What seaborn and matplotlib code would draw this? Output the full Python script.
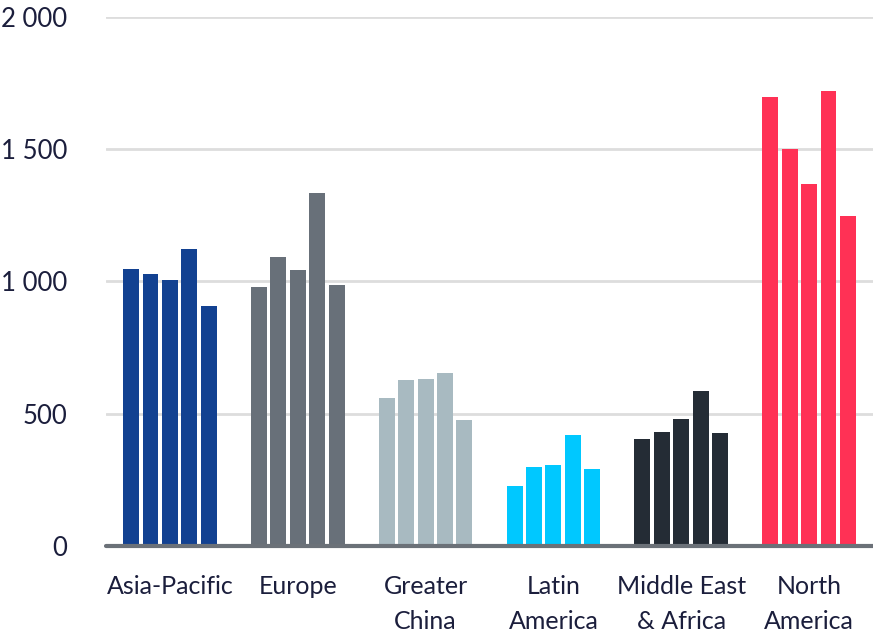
import matplotlib
matplotlib.use("Agg")
import matplotlib.pyplot as plt
import seaborn as sns
import pandas as pd
import numpy as np
from matplotlib.ticker import FuncFormatter

regions = ["Asia-Pacific", "Europe", "Greater\nChina", "Latin\nAmerica",
           "Middle East\n& Africa", "North\nAmerica"]
series = ["P1", "P2", "P3", "P4", "P5"]
asia_pacific = [1048, 1029, 1006, 1124, 908]
europe = [980, 1094, 1044, 1336, 988]
greater_china = [559, 628, 631, 654, 476]
latin_america = [226, 298, 305, 419, 291]
middle_east_africa = [404, 430, 480, 586, 427]
north_america = [1696, 1499, 1370, 1719, 1249]
region_colors = ["#124191", "#687079", "#A8BAC1", "#00C8FF", "#242C35", "#FF3155"]
y_ticks = [0, 500, 1000, 1500, 2000]

values = [asia_pacific, europe, greater_china, latin_america, middle_east_africa, north_america]
df = pd.DataFrame(
    [(r, s, v) for r, vals in zip(regions, values) for s, v in zip(series, vals)],
    columns=["region", "series", "value"],
)

sns.set_theme(style="white")
plt.rcParams["font.family"] = ["Lato", "DejaVu Sans"]
text_color = "#1B1E3C"

fig = plt.figure(figsize=(8.73, 6.35), dpi=100)
ax = fig.add_axes([106 / 873, 1 - 545.7 / 635, 1 - 106 / 873, (545.7 - 17) / 635])

sns.barplot(data=df, x="region", y="value", hue="series", order=regions,
            hue_order=series, width=0.76, gap=0.18, legend=False,
            errorbar=None, ax=ax, saturation=1, palette=["#000000"] * 5)

# colour each bar by its region
for p in ax.patches:
    cx = p.get_x() + p.get_width() / 2
    idx = int(round(cx))
    p.set_facecolor(region_colors[idx])
    p.set_edgecolor("none")
    p.set_linewidth(0)

ax.set_xlim(-0.5, 5.5)
ax.set_ylim(0, 2000)
ax.set_yticks(y_ticks)
ax.yaxis.set_major_formatter(FuncFormatter(lambda v, _: f"{int(v):,}".replace(",", " ")))
ax.grid(axis="y", color="#DDDDDD", linewidth=2, zorder=0)
ax.set_axisbelow(True)
ax.axhline(0, color="#6B7178", linewidth=3, zorder=5, clip_on=False)

for s in ax.spines.values():
    s.set_visible(False)

ax.tick_params(axis="y", length=0, pad=28, labelsize=18.5, labelcolor=text_color)
ax.tick_params(axis="x", length=0, pad=21, labelsize=18, labelcolor=text_color)
for lbl in ax.get_xticklabels():
    lbl.set_linespacing(1.62)
    lbl.set_verticalalignment("top")
ax.set_xlabel("")
ax.set_ylabel("")

fig.savefig("out.png", dpi=100)
